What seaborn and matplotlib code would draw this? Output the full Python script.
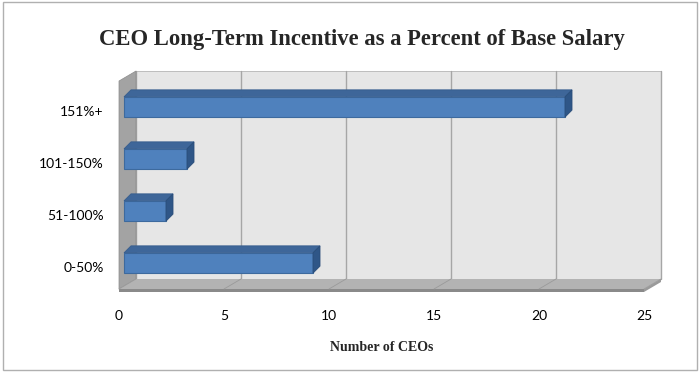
import matplotlib
matplotlib.use("Agg")
import matplotlib.pyplot as plt
import seaborn as sns
import pandas as pd
from matplotlib.patches import Polygon, Rectangle
from matplotlib.transforms import ScaledTranslation

categories = ["151%+", "101-150%", "51-100%", "0-50%"]
values = [21, 3, 2, 9]
xticks = [0, 5, 10, 15, 20, 25]
title = "CEO Long-Term Incentive as a Percent of Base Salary"
xlabel = "Number of CEOs"

df = pd.DataFrame({"cat": categories, "n": values})

sns.set_theme(style="white")
plt.rcParams["font.family"] = ["Lato", "DejaVu Sans"]

W, H = 699, 372
fig = plt.figure(figsize=(W / 100, H / 100), dpi=100)
ax_l, ax_r, ax_t, ax_b = 119, 644, 81, 289
ax = fig.add_axes([ax_l / W, (H - ax_b) / H, (ax_r - ax_l) / W, (ax_b - ax_t) / H])
ax.set_facecolor("none")
for s in ax.spines.values():
    s.set_visible(False)

axw, axh = ax_r - ax_l, ax_b - ax_t
dxa, dya = 17 / axw, 10 / axh  # wall depth, axes fraction

# back wall
ax.add_patch(Rectangle((dxa, dya), 1, 1, transform=ax.transAxes, facecolor="#e6e6e6",
                       edgecolor="#b4b4b4", linewidth=0.6, zorder=0, clip_on=False))
for t in xticks:
    f = t / 25
    ax.plot([f + dxa, f + dxa], [dya, 1 + dya], transform=ax.transAxes, color="#a6a6a6",
            linewidth=1.0, zorder=0.5, clip_on=False)
# side wall
ax.add_patch(Polygon([(0, 0), (0, 1), (dxa, 1 + dya), (dxa, dya)], closed=True,
                     transform=ax.transAxes, facecolor="#a3a3a3", edgecolor="#8c8c8c",
                     linewidth=0.5, zorder=1, clip_on=False))
# floor top
ax.add_patch(Polygon([(0, 0), (1, 0), (1 + dxa, dya), (dxa, dya)], closed=True,
                     transform=ax.transAxes, facecolor="#b3b3b3", edgecolor="none",
                     zorder=1, clip_on=False))
for t in xticks:
    f = t / 25
    ax.plot([f, f + dxa], [0, dya], transform=ax.transAxes, color="#9a9a9a",
            linewidth=0.6, zorder=1.2, clip_on=False)
# floor front strip
ax.add_patch(Polygon([(0, 0), (1, 0), (1, -3 / axh), (0, -3 / axh)], closed=True,
                     transform=ax.transAxes, facecolor="#8a8a8a", edgecolor="none",
                     zorder=1.1, clip_on=False))
ax.add_patch(Polygon([(1, 0), (1 + dxa, dya), (1 + dxa, dya - 3 / axh), (1, -3 / axh)], closed=True,
                     transform=ax.transAxes, facecolor="#9a9a9a", edgecolor="none",
                     zorder=1.1, clip_on=False))

n_before = len(ax.patches)
sns.barplot(data=df, x="n", y="cat", orient="h", color="#4f81bd", width=0.39,
            edgecolor="#3d6a9e", linewidth=0.8, saturation=1, ax=ax, zorder=3)
bars = list(ax.patches)[n_before:]
ax.set_xlim(0, 25)
ax.set_ylim(3.5, -0.5)

px_x = 25 / axw          # data units per px in x
px_y = 4 / axh           # data units per px in y
shift = 5 * px_x
bdx, bdy = 7 * px_x, 7 * px_y
for p in bars:
    p.set_x(p.get_x() + shift)
    x0, y0, w, h = p.get_x(), p.get_y(), p.get_width(), p.get_height()
    ytop = min(y0, y0 + h)
    ybot = max(y0, y0 + h)
    x1 = x0 + w
    ax.add_patch(Polygon([(x0, ytop), (x1, ytop), (x1 + bdx, ytop - bdy), (x0 + bdx, ytop - bdy)],
                         closed=True, facecolor="#3e6699", edgecolor="#365d8e", linewidth=0.6,
                         zorder=3.2, clip_on=False))
    ax.add_patch(Polygon([(x1, ytop), (x1 + bdx, ytop - bdy), (x1 + bdx, ybot - bdy), (x1, ybot)],
                         closed=True, facecolor="#2f5687", edgecolor="#2a4d7a", linewidth=0.6,
                         zorder=3.2, clip_on=False))

ax.set_xticks(xticks)
ax.set_xticklabels([str(t) for t in xticks])
ax.tick_params(axis="x", length=0, pad=15, labelsize=10, labelcolor="#000000")
ax.tick_params(axis="y", length=0, pad=11, labelsize=10, labelcolor="#000000")
for lab in ax.get_yticklabels():
    lab.set_transform(lab.get_transform() + ScaledTranslation(0, -0.04, fig.dpi_scale_trans))
ax.set_ylabel("")
ax.set_xlabel(xlabel, fontsize=10, fontweight="bold", family=["Liberation Serif", "DejaVu Serif"],
              labelpad=14)

fig.text(362 / W, 1 - 40 / H, title, ha="center", va="center", fontsize=16.3, fontweight="bold",
         family=["Liberation Serif", "DejaVu Serif"])

fig.patches.append(Rectangle((3 / W, 2 / H), (697 - 3) / W, (370 - 2) / H, transform=fig.transFigure,
                             facecolor="none", edgecolor="#b0b0b0", linewidth=1.0))

fig.savefig("out.png", dpi=100)
